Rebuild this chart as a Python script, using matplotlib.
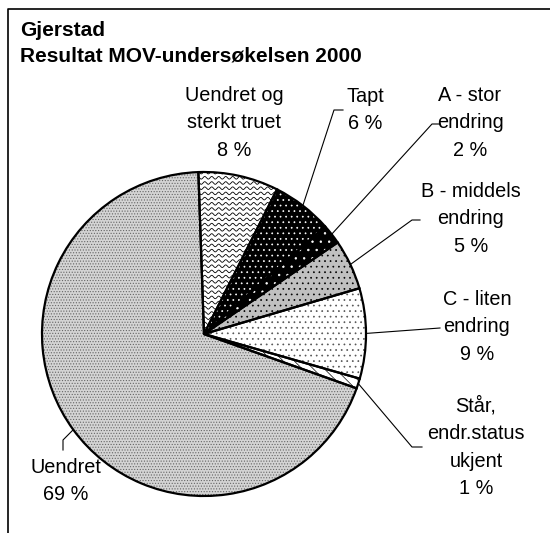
import numpy as np
import matplotlib
matplotlib.use("Agg")
from matplotlib import pyplot as plt
from matplotlib.patches import Wedge
from matplotlib.lines import Line2D

plt.rcParams['font.family'] = ['Liberation Sans', 'DejaVu Sans']
plt.rcParams['hatch.linewidth'] = 0.5

# Data, clockwise from 12 o'clock
labels = ['Uendret og\nsterkt truet', 'Tapt', 'A - stor\nendring',
          'B - middels\nendring', 'C - liten\nendring',
          'Står,\nendr.status\nukjent', 'Uendret']
values = [8, 6, 2, 5, 9, 1, 69]

# Fill styles (face colour, hatch, hatch colour)
faces = ['white', 'black', 'black', '#c0c0c0', 'white', 'white', '#d4d4d4']
hatches = [None, '...', '..', '...', '...', '\\\\\\', '......']
hatch_cols = ['black', 'white', 'white', 'black', '#555555', 'black', '#666666']

# Label centres and leader elbows (pixels, from top-left)
label_pos = [(234, 123), (365, 110), (470, 123), (471, 219),
             (477, 327), (476, 447), (66, 481)]
leaders = [None,
           [(334, 110), (343, 110)],
           [(432, 124), (440, 124)],
           [(412, 220), (420, 220)],
           [(440, 328)],
           [(412, 447), (422, 447)],
           [(63, 440), (63, 450)]]

W, H = 550, 533
cx, cy, R = 204, 334, 162


def py(y):
    return H - y


fig = plt.figure(figsize=(5.5, 5.33), dpi=100)
ax = fig.add_axes([0, 0, 1, 1])

wedges, _ = ax.pie(values, startangle=92, counterclock=False,
                   center=(cx, py(cy)), radius=R, colors=faces,
                   wedgeprops=dict(linewidth=0))
for w, h, hc in zip(wedges, hatches, hatch_cols):
    w.set_edgecolor(hc)
    if h:
        w.set_hatch(h)

# wavy pattern for the first slice
w0 = wedges[0]
xs = np.linspace(cx - 10, cx + R, 400)
for yy in np.arange(py(cy) - 5, py(cy) + R + 5, 5.2):
    ln, = ax.plot(xs, yy + 1.3 * np.sin(2 * np.pi * xs / 7.0),
                  color='black', lw=0.6)
    ln.set_clip_path(w0)

# outlines
for w in wedges:
    ax.add_patch(Wedge(w.center, w.r, w.theta1, w.theta2, fill=False,
                       ec='black', lw=1.6, zorder=3))

# labels and leader lines
for w, lab, v, pos, ld in zip(wedges, labels, values, label_pos, leaders):
    ax.text(pos[0], py(pos[1]), f'{lab}\n{v} %', ha='center', va='center',
            fontsize=14.3, linespacing=1.58)
    if ld:
        mid = np.deg2rad((w.theta1 + w.theta2) / 2)
        px = [cx + R * np.cos(mid)] + [p[0] for p in ld]
        pyy = [py(cy) + R * np.sin(mid)] + [py(p[1]) for p in ld]
        ax.plot(px, pyy, color='black', lw=0.8, zorder=4)

ax.text(20, py(31), 'Gjerstad', fontsize=15, fontweight='bold',
        ha='left', va='center')
ax.text(20, py(56), 'Resultat MOV-undersøkelsen 2000', fontsize=15,
        fontweight='bold', ha='left', va='center')

ax.set_xlim(0, W)
ax.set_ylim(0, H)
ax.set_aspect('equal')
ax.axis('off')

fig.add_artist(Line2D([8 / W, 8 / W, 1], [0, 1 - 9 / H, 1 - 9 / H],
                      transform=fig.transFigure, color='black', lw=1.2))

fig.savefig('out.png', dpi=100)
